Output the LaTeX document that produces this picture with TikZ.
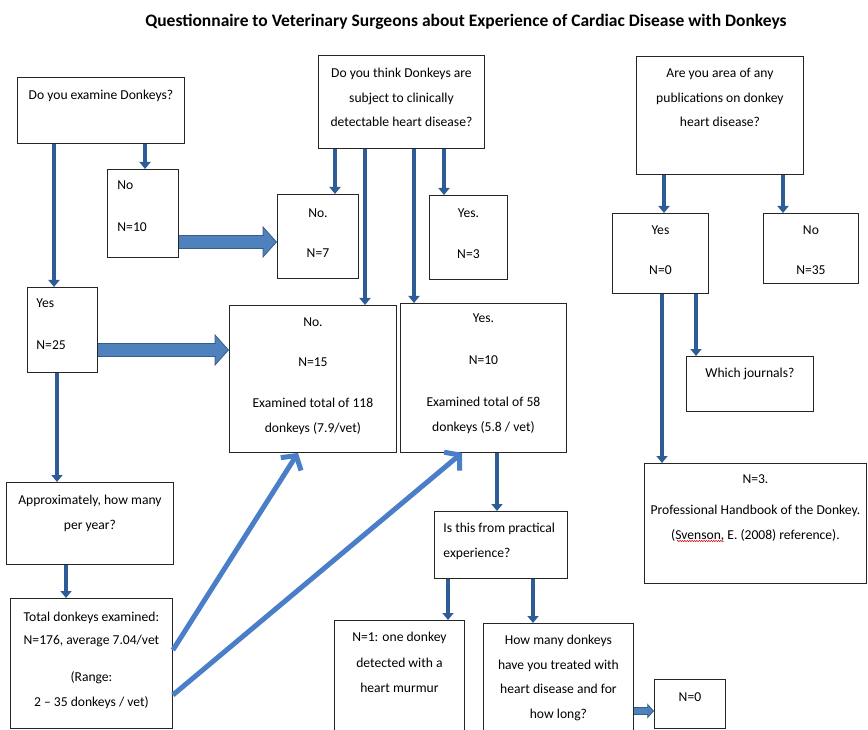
\documentclass[tikz,border=0pt]{standalone}
\usepackage{fontspec}
\setmainfont{Carlito}
\usetikzlibrary{arrows.meta,calc,decorations.pathmorphing}
\definecolor{flowBlue}{RGB}{46,92,150}
\definecolor{blockFill}{RGB}{79,129,189}
\definecolor{blockLine}{RGB}{56,93,138}
\definecolor{linkBlue}{RGB}{74,126,200}
% width, height, first baseline, alignment, lines
\newcommand{\cardtext}[5]{\parbox[t][#2][t]{#1}{#4\rule{0pt}{#3}#5}}

\begin{document}
\begin{tikzpicture}[
  x=1pt,
  y=-1pt,
  every card/.style={
    draw=black!85,
    line width=0.9pt,
    anchor=north west,
    inner sep=0pt,
    font=\fontsize{13.6}{24.5}\selectfont,
  },
  flow/.style={
    flowBlue,
    line width=4.5pt,
    -{Triangle[width=11pt,length=7pt]},
  },
  link/.style={
    linkBlue,
    line width=5pt,
    -{Straight Barb[length=10pt,width=24pt]},
  },
  wide shaft/.style={
    draw=blockLine,
    line width=0.8pt,
    double=blockFill,
    double distance=#1,
  },
  wide head/.style={
    blockLine,
    line width=0.8pt,
    -{Triangle[width=#1,length=0.45*#1,fill=blockFill]},
  },
  spell mark/.style={
    red!85!black,
    line width=0.5pt,
    decorate,
    decoration={snake,amplitude=0.7pt,segment length=2.4pt},
  }
]
\useasboundingbox (0,0) rectangle (868,730);
\node[font=\fontsize{17.5}{20}\selectfont\bfseries] (title) at (466,22)
  {Questionnaire to Veterinary Surgeons about Experience of Cardiac Disease with Donkeys};

% left column
\node[every card] (q1) at (17,77)
  {\cardtext{167pt}{66pt}{22.5pt}{\centering}{Do you examine Donkeys?}};
\node[every card] (no10) at (107,169)
  {\cardtext{71pt}{88pt}{20.5pt}{\raggedright\leftskip=10pt\relax}{No\\[17.5pt]N=10}};
\node[every card] (yes25) at (27,287)
  {\cardtext{70pt}{85pt}{20.5pt}{\raggedright\leftskip=9pt\relax}{Yes\\[17.5pt]N=25}};
\node[every card] (approx) at (6,482)
  {\cardtext{167pt}{82pt}{22.5pt}{\centering}{Approximately, how many\\per year?}};
\node[every card] (total) at (10,598)
  {\cardtext{162pt}{130pt}{23.5pt}{\centering}{Total donkeys examined:\\[-1.5pt]N=176, average 7.04/vet\\[12.5pt](Range:\\2 – 35 donkeys / vet)}};

% middle
\node[every card] (q2) at (318,55)
  {\cardtext{166pt}{93pt}{22.5pt}{\centering}{Do you think Donkeys are\\subject to clinically\\detectable heart disease?}};
\node[every card] (no7) at (277,194)
  {\cardtext{81pt}{84pt}{23.5pt}{\centering}{No.\\[15.5pt]N=7}};
\node[every card] (yes3) at (429,195)
  {\cardtext{78pt}{84pt}{22.5pt}{\centering}{Yes.\\[16.5pt]N=3}};
\node[every card] (no15) at (229,305)
  {\cardtext{167pt}{147pt}{21.5pt}{\centering}{No.\\[15.5pt]N=15\\[16.5pt]Examined total of 118\\donkeys (7.9/vet)}};
\node[every card] (yes10) at (400,303)
  {\cardtext{166pt}{149pt}{19.5pt}{\centering}{Yes.\\[17.5pt]N=10\\[17.5pt]Examined total of 58\\donkeys (5.8 / vet)}};
\node[every card] (practical) at (434,511)
  {\cardtext{133pt}{67pt}{21.5pt}{\raggedright\leftskip=9pt\relax}{Is this from practical\\experience?}};
\node[every card] (n1) at (334,620)
  {\cardtext{130pt}{112pt}{21.5pt}{\centering}{N=1: one donkey\\[1.5pt]detected with a\\heart murmur}};
\node[every card] (howmany) at (483,623)
  {\cardtext{150pt}{110pt}{21.5pt}{\centering}{How many donkeys\\have you treated with\\heart disease and for\\how long?}};
\node[every card] (n0) at (654,679)
  {\cardtext{71pt}{49pt}{22.5pt}{\centering}{N=0}};

% right column
\node[every card] (q3) at (636,56)
  {\cardtext{167pt}{118pt}{21.5pt}{\centering}{Are you area of any\\publications on donkey\\heart disease?}};
\node[every card] (yes0) at (612,213)
  {\cardtext{96pt}{80pt}{21.5pt}{\centering}{Yes\\[15.5pt]N=0}};
\node[every card] (no35) at (763,213)
  {\cardtext{95pt}{70pt}{21.5pt}{\centering}{No\\[15.5pt]N=35}};
\node[every card] (journals) at (686,356)
  {\cardtext{127pt}{55pt}{21.5pt}{\centering}{Which journals?}};
\node[every card] (n3) at (644,463)
  {\cardtext{222pt}{120pt}{20.5pt}{\centering}{N=3.\\[6.5pt]Professional Handbook of the Donkey.\\(Svenson, E. (2008) reference).}};
\draw[spell mark] (677,541) -- (724,541);

% thin arrows
\draw[flow] (q1.south -| 54,0) -- (yes25.north -| 54,0);
\draw[flow] (q1.south -| 145,0) -- (no10.north -| 145,0);
\draw[flow] (yes25.south -| 57,0) -- (approx.north -| 57,0);
\draw[flow] (approx.south -| 66,0) -- (total.north -| 66,0);
\draw[flow] (q2.south -| 335,0) -- (no7.north -| 335,0);
\draw[flow] (q2.south -| 365,0) -- (no15.north -| 365,0);
\draw[flow] (q2.south -| 414,0) -- (yes10.north -| 414,0);
\draw[flow] (q2.south -| 444,0) -- (yes3.north -| 444,0);
\draw[flow] (yes10.south -| 497,0) -- (practical.north -| 497,0);
\draw[flow] (practical.south -| 448,0) -- (n1.north -| 448,0);
\draw[flow] (practical.south -| 533,0) -- (howmany.north -| 533,0);
\draw[flow] (q3.south -| 664,0) -- (yes0.north -| 664,0);
\draw[flow] (q3.south -| 783,0) -- (no35.north -| 783,0);
\draw[flow] (yes0.south -| 662,0) -- (n3.north -| 662,0);
\draw[flow] (yes0.south -| 696,0) -- (journals.north -| 696,0);

% block arrows
\draw[wide head=32pt] ($(no7.west |- 0,242)+(-15,0)$) -- (no7.west |- 0,242);
\draw[wide shaft=12pt] (no10.east |- 0,242) -- ($(no7.west |- 0,242)+(-13.5,0)$);
\draw[wide head=32pt] ($(no15.west |- 0,350)+(-15,0)$) -- (no15.west |- 0,350);
\draw[wide shaft=12pt] (yes25.east |- 0,350) -- ($(no15.west |- 0,350)+(-13.5,0)$);
\draw[wide head=15pt] ($(n0.west |- 0,711)+(-8,0)$) -- (n0.west |- 0,711);
\draw[wide shaft=6pt] (howmany.east |- 0,711) -- ($(n0.west |- 0,711)+(-6,0)$);

% links to the answer boxes
\draw[link] (total.east |- 0,650) -- (no15.south -| 298,0);
\draw[link] (total.east |- 0,695) -- (yes10.south -| 462,0);
\end{tikzpicture}
\end{document}
